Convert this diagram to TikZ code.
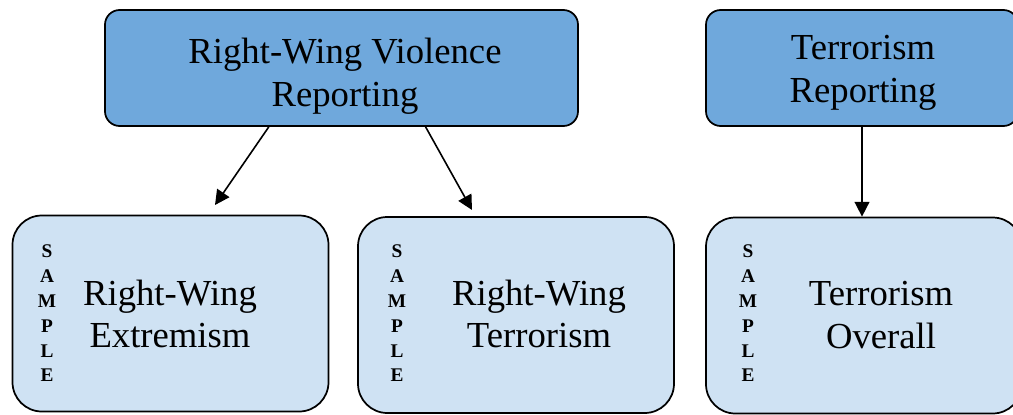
\documentclass[tikz,border=0pt]{standalone}
\usepackage{fontspec}
\setmainfont{Liberation Serif}
\usetikzlibrary{arrows.meta}
\definecolor{topblue}{RGB}{111,168,220}
\definecolor{lowblue}{RGB}{207,226,243}

\begin{document}
\begin{tikzpicture}[x=0.75pt, y=-0.75pt,
	topbox/.style={draw, line width=1.3pt, rounded corners=11pt, fill=topblue, minimum height=87pt},
	lowbox/.style={draw, line width=1.3pt, rounded corners=22pt, fill=lowblue, minimum width=237pt, minimum height=147pt},
	boxtext/.style={align=center, inner sep=0pt, font=\fontsize{27.5}{32}\selectfont},
	sampletext/.style={align=center, inner sep=0pt, font=\fontsize{14.5}{18.6}\selectfont\bfseries},
	arr/.style={line width=1.2pt, -{Triangle[length=11pt, width=11pt]}}]
	\clip (0, 0) rectangle (1013, 414);
	% Boxes:
	\node[topbox, minimum width=354.75pt] (rwv) at (341.5, 68){};
	\node[topbox, minimum width=234pt] (tr) at (862, 68){};
	\node[lowbox] (rwe) at (170.5, 313.5){};
	\node[lowbox] (rwt) at (516, 315){};
	\node[lowbox] (tro) at (864, 315.5){};
	% Texts:
	\node[boxtext] (rwvtext) at (345, 76){Right-Wing Violence\\Reporting};
	\node[boxtext] (trtext) at (863, 72.5){Terrorism\\Reporting};
	\node[boxtext] (rwetext) at (170, 314){Right-Wing\\Extremism};
	\node[boxtext] (rwttext) at (539, 314){Right-Wing\\Terrorism};
	\node[boxtext] (trotext) at (881, 315){Terrorism\\Overall};
	\node[sampletext] (rwesample) at (47, 313.5){S\\A\\M\\P\\L\\E};
	\node[sampletext] (rwtsample) at (397, 313.5){S\\A\\M\\P\\L\\E};
	\node[sampletext] (trosample) at (748, 313.5){S\\A\\M\\P\\L\\E};
	% Arrows:
	\coordinate (rwetip) at (215, 205);
	\coordinate (rwttip) at (472, 210);
	\draw[arr] (rwv.219) -- (rwetip);
	\draw[arr] (rwv.325) -- (rwttip);
	\draw[arr] (tr.south) -- (tr.south |- tro.north);
\end{tikzpicture}
\end{document}
